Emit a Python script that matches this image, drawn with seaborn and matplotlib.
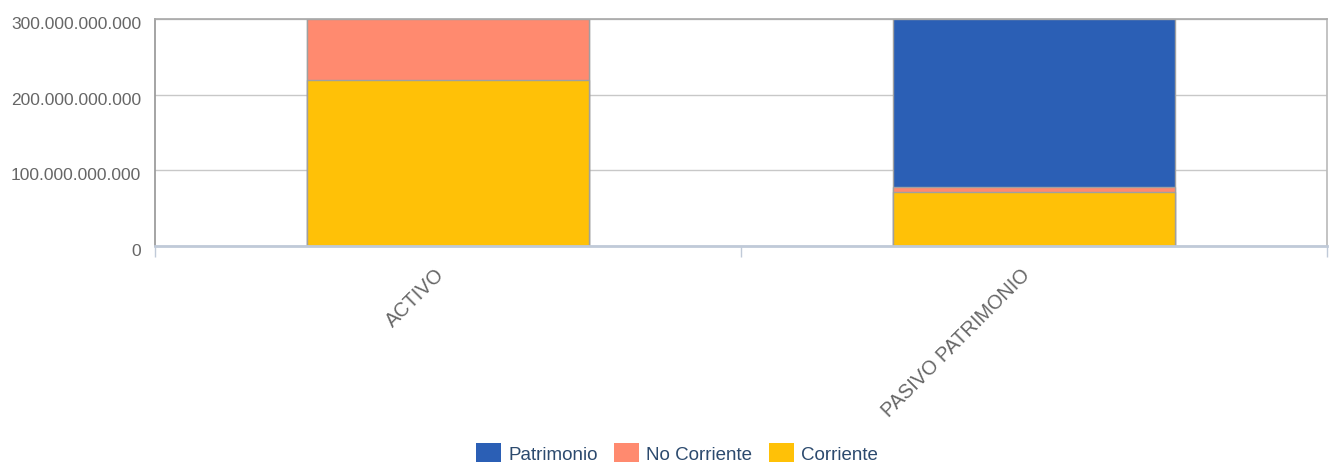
import numpy as np
import pandas as pd
import matplotlib
matplotlib.use("Agg")
import matplotlib.pyplot as plt
import matplotlib.transforms as mtrans
from matplotlib.patches import Patch
from matplotlib.ticker import FuncFormatter, FixedLocator
import seaborn as sns

# values
categories = ["ACTIVO", "PASIVO PATRIMONIO"]
corriente = [220e9, 71e9]
no_corriente = [80e9, 7.5e9]
patrimonio = [0, 221.5e9]

series = ["Patrimonio", "No Corriente", "Corriente"]
colors = {"Patrimonio": "#2b5fb5", "No Corriente": "#ff8a6f", "Corriente": "#ffc107"}

sns.set_theme(style="white")
plt.rcParams["font.family"] = ["Liberation Sans", "DejaVu Sans"]

df = pd.DataFrame({"cat": categories,
                   "Corriente": corriente,
                   "No Corriente": no_corriente,
                   "Patrimonio": patrimonio})
# cumulative tops for stacking (drawn largest first)
df["top_corr"] = df["Corriente"]
df["top_nc"] = df["Corriente"] + df["No Corriente"]
df["top_pat"] = df["top_nc"] + df["Patrimonio"]

fig = plt.figure(figsize=(13.3, 4.64), dpi=100)
ax = fig.add_axes([155 / 1330, 1 - 247 / 464, 1172 / 1330, 227 / 464])

for col, name in [("top_pat", "Patrimonio"), ("top_nc", "No Corriente"), ("top_corr", "Corriente")]:
    sns.barplot(data=df, x="cat", y=col, color=colors[name], width=0.48,
                edgecolor="#a0a0a0", linewidth=1, saturation=1, ax=ax, zorder=3)

ax.set_xlim(-0.5, 1.5)
ax.set_ylim(0, 300e9)
ax.set_yticks([0, 100e9, 200e9, 300e9])
ax.yaxis.set_major_formatter(FuncFormatter(lambda v, p: f"{v:,.0f}".replace(",", ".")))
ax.yaxis.grid(True, color="#c8c8c8", linewidth=1, zorder=0)
ax.set_axisbelow(True)
ax.set_xlabel("")
ax.set_ylabel("")

ax.tick_params(axis="y", length=0, pad=10, labelsize=12.5, labelcolor="#666666")
# labels sit a little below their gridlines in the original
shift = mtrans.ScaledTranslation(0, -3 / 100, fig.dpi_scale_trans)
for lbl in ax.get_yticklabels():
    lbl.set_transform(lbl.get_transform() + shift)

ax.set_xticks([0, 1])
ax.set_xticklabels(categories, rotation=45, ha="right", fontsize=14.3, color="#666666")
ax.tick_params(axis="x", which="major", length=0, pad=13)
ax.xaxis.set_minor_locator(FixedLocator([-0.5, 0.5, 1.5]))
ax.tick_params(axis="x", which="minor", bottom=True, length=8, width=1, color="#c0cad8")

ax.spines["left"].set_color("#999999")
ax.spines["top"].set_color("#aaaaaa")
ax.spines["right"].set_color("#bbbbbb")
ax.spines["bottom"].set_color("#c0cad8")
ax.spines["bottom"].set_linewidth(2)
for s in ax.spines.values():
    s.set_zorder(4)

handles = [Patch(facecolor=colors[s], edgecolor="none", label=s) for s in series]
leg = fig.legend(handles=handles, loc="center", bbox_to_anchor=(677 / 1330, 1 - 454 / 464),
                 ncol=3, frameon=False, fontsize=13.5, handlelength=1.3, handleheight=1.2,
                 handletextpad=0.4, columnspacing=0.9)
for t in leg.get_texts():
    t.set_color("#2c4a6e")

fig.savefig("out.png", dpi=100)
